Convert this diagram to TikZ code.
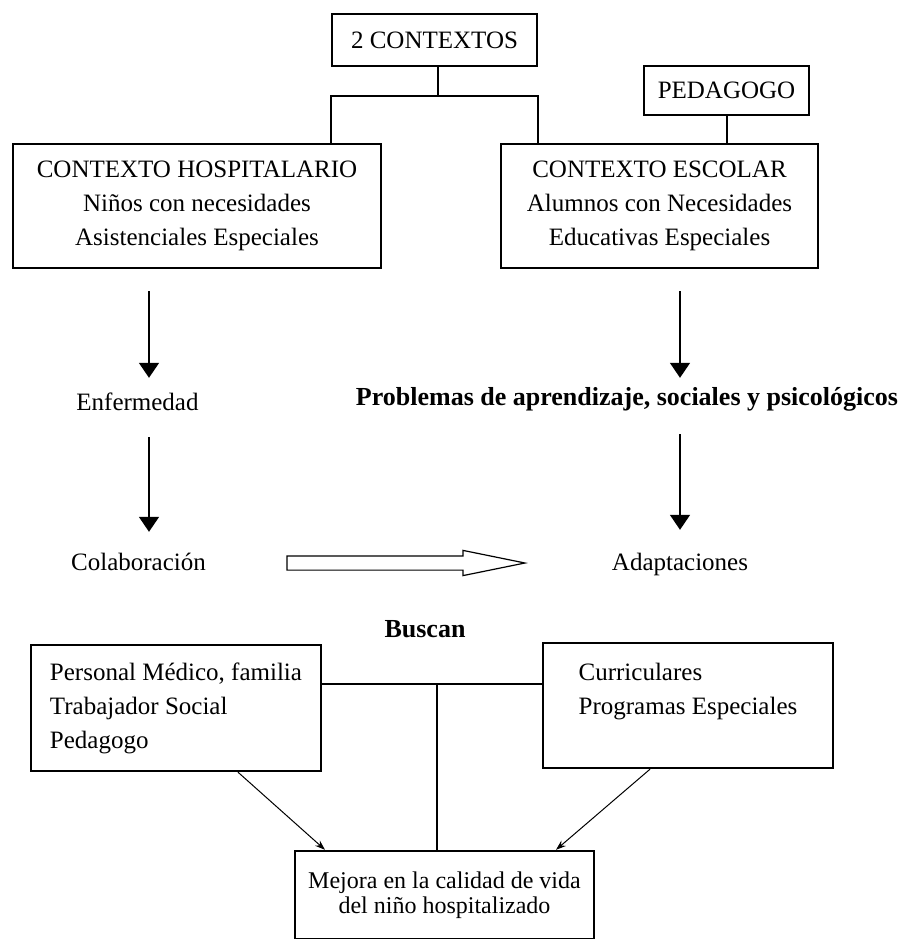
\documentclass[tikz,border=0pt]{standalone}
\usepackage{fontspec}
\setmainfont{Liberation Serif}
\usetikzlibrary{arrows.meta,shapes.arrows}
\tikzset{
  caja/.style = {rectangle, draw=black, line width=2.4pt, align=center,
    inner sep=0pt, font=\fontsize{25}{34}\selectfont},% caja con texto
  texto/.style = {inner sep=0pt, text height=17pt, text depth=5pt,
    anchor=base, font=\fontsize{25}{30}\selectfont},% texto suelto
  texto_b/.style = {texto, font=\fontsize{26}{30}\selectfont\bfseries},% texto en negrita
  linea/.style = {line width=2pt},% union entre cajas
  flecha/.style = {line width=1.6pt, -{Triangle[length=15pt,width=20pt]}},% flecha gruesa
  flecha_d/.style = {line width=1pt, -{Stealth[length=10pt,width=7pt]}},% flecha diagonal
  hueca/.style = {single arrow, draw=black, line width=1.2pt, inner xsep=0pt,
    inner ysep=6.5pt, single arrow head extend=5.5pt,
    single arrow tip angle=23}% flecha hueca
}
\begin{document}
\begin{tikzpicture}[x=1pt,y=-1pt]
\useasboundingbox (0,0) rectangle (903,939);
\clip (0,0) rectangle (903,939);
% arriba
\node [caja, minimum width=205pt, minimum height=52pt] (ctx) at (434.5,40) {2 CONTEXTOS};
\node [caja, minimum width=165pt, minimum height=49pt] (ped) at (726.5,90.5) {PEDAGOGO};
\node [caja, minimum width=368pt, minimum height=124pt] (hosp) at (197,206)
  {CONTEXTO HOSPITALARIO\\Niños con necesidades\\Asistenciales Especiales};
\node [caja, minimum width=317pt, minimum height=124pt] (esc) at (659.5,206)
  {CONTEXTO ESCOLAR\\Alumnos con Necesidades\\Educativas Especiales};
\coordinate (split) at (438,96);
\draw [linea] (split |- ctx.south) -- (split);
\draw [linea] (hosp.north -| ctx.west) |- (split) -| (esc.north -| ctx.east);
\draw [linea] (ped) -- (ped |- esc.north);
% columnas
\node [texto] (enf) at (137.5,410) {Enfermedad};
\node [texto_b] (prob) at (627,405) {Problemas de aprendizaje, sociales y psicológicos};
\node [texto] (colab) at (138.5,570) {Colaboración};
\node [texto] (adap) at (680,570) {Adaptaciones};
\node [hueca, minimum height=238pt] (trasp) at (388.5,563) {};
\coordinate (col_i) at (149,0);
\coordinate (col_d) at (680,0);
\draw [flecha, shorten <=22pt, shorten >=15pt] (hosp.south -| col_i) -- (enf.north -| col_i);
\draw [flecha, shorten <=22pt, shorten >=21pt] (enf.south -| col_i) -- (colab.north -| col_i);
\draw [flecha, shorten <=22pt, shorten >=10pt] (esc.south -| col_d) -- (prob.north -| col_d);
\draw [flecha, shorten <=24pt, shorten >=23pt] (prob.south -| col_d) -- (adap.north -| col_d);
% abajo
\node [texto_b] (busc) at (425,637) {Buscan};
\node [caja, align=left, minimum width=290pt, minimum height=126pt] (pers) at (176,708)
  {Personal Médico, familia\\Trabajador Social\\Pedagogo};
\node [caja, align=left, minimum width=290pt, minimum height=125pt] (curr) at (688,705.5)
  {Curriculares\\Programas Especiales\\\mbox{}};
\node [caja, font=\fontsize{24}{25}\selectfont, minimum width=299pt, minimum height=88pt]
  (mej) at (444.5,895) {Mejora en la calidad de vida\\del niño hospitalizado};
\coordinate (nudo) at (437,684);
\draw [linea] (pers.east |- nudo) -- (curr.west |- nudo);
\draw [linea] (nudo) -- (nudo |- mej.north);
\draw [flecha_d] ([xshift=62pt]pers.south) -- ([xshift=-119.5pt]mej.north);
\draw [flecha_d] ([xshift=-38pt]curr.south) -- ([xshift=111.5pt]mej.north);
\end{tikzpicture}
\end{document}
